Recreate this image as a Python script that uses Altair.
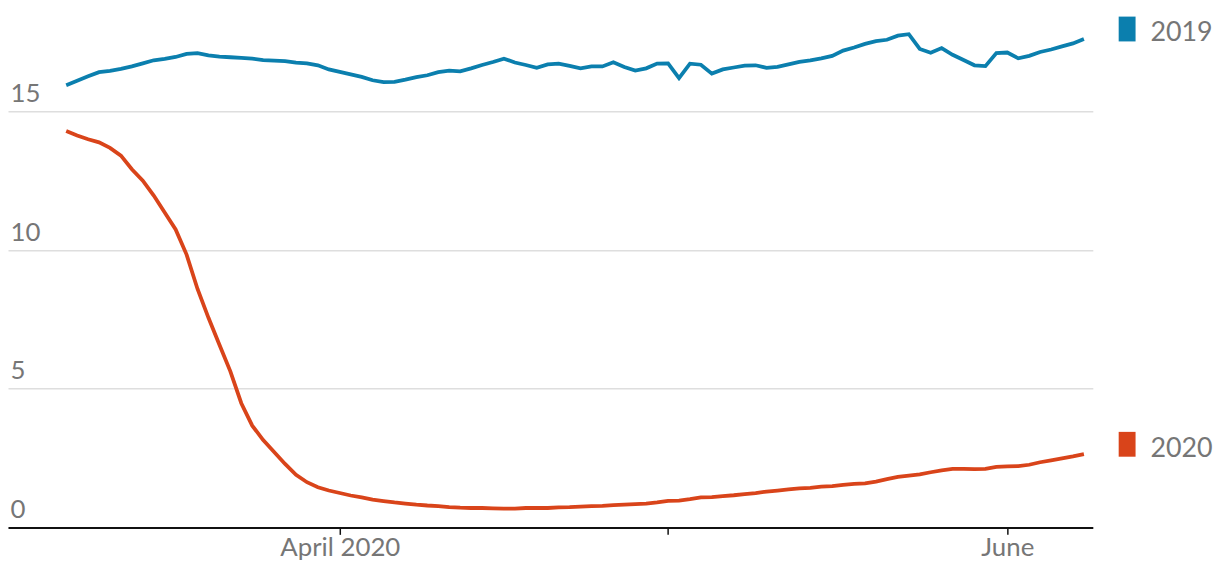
import altair as alt
import pandas as pd

# Daily dates, 7 March 2020 to 8 June 2020
dates = pd.date_range("2020-03-07", "2020-06-08", freq="D").strftime("%Y-%m-%d").tolist()

values_2019 = [
    15.95, 16.11, 16.27, 16.42, 16.47, 16.54, 16.63, 16.74, 16.85, 16.90,
    16.97, 17.08, 17.11, 17.03, 16.98, 16.96, 16.94, 16.91, 16.86, 16.84,
    16.82, 16.77, 16.74, 16.67, 16.52, 16.43, 16.34, 16.25, 16.13, 16.06,
    16.07, 16.15, 16.24, 16.31, 16.42, 16.48, 16.45, 16.56, 16.68, 16.79,
    16.91, 16.77, 16.68, 16.58, 16.70, 16.73, 16.65, 16.56, 16.63, 16.63,
    16.78, 16.61, 16.48, 16.56, 16.73, 16.74, 16.21, 16.73, 16.69, 16.37,
    16.52, 16.59, 16.66, 16.67, 16.58, 16.61, 16.70, 16.79, 16.85, 16.92,
    17.01, 17.20, 17.31, 17.44, 17.54, 17.59, 17.74, 17.79, 17.26, 17.12,
    17.29, 17.05, 16.86, 16.67, 16.64, 17.11, 17.13, 16.92, 17.01, 17.15,
    17.24, 17.35, 17.46, 17.62,
]

values_2020 = [
    14.30, 14.14, 14.00, 13.89, 13.69, 13.41, 12.92, 12.51, 11.97, 11.36,
    10.75, 9.84, 8.60, 7.56, 6.59, 5.63, 4.48, 3.67, 3.15, 2.72,
    2.29, 1.90, 1.63, 1.45, 1.33, 1.24, 1.15, 1.08, 1.00, 0.95,
    0.90, 0.86, 0.82, 0.79, 0.77, 0.73, 0.71, 0.70, 0.70, 0.69,
    0.68, 0.68, 0.70, 0.70, 0.70, 0.72, 0.73, 0.75, 0.77, 0.78,
    0.80, 0.82, 0.84, 0.86, 0.90, 0.96, 0.97, 1.02, 1.08, 1.09,
    1.13, 1.16, 1.20, 1.24, 1.29, 1.33, 1.37, 1.41, 1.43, 1.47,
    1.49, 1.53, 1.57, 1.59, 1.65, 1.74, 1.82, 1.87, 1.91, 1.99,
    2.06, 2.11, 2.11, 2.10, 2.11, 2.18, 2.20, 2.21, 2.26, 2.35,
    2.42, 2.49, 2.56, 2.64,
]

series_names = ["2019", "2020"]
series_colors = ["#0b7fae", "#d9441a"]
y_ticks = [0, 5, 10, 15]
x_tick_dates = ["2020-04-01", "2020-05-01", "2020-06-01"]

df = pd.DataFrame({
    "date": dates * 2,
    "value": values_2019 + values_2020,
    "year": ["2019"] * len(dates) + ["2020"] * len(dates),
})
last = df[df["date"] == dates[-1]]

FONT = "Lato"
GRAY = "#767676"

x_enc = alt.X(
    "date:T",
    scale=alt.Scale(
        type="utc",
        domain=[
            alt.DateTime(year=2020, month=3, date=1, hours=16, minutes=20, utc=True),
            alt.DateTime(year=2020, month=6, date=8, hours=19, minutes=30, utc=True),
        ],
    ),
    axis=alt.Axis(
        title=None,
        values=[alt.DateTime(year=2020, month=int(d[5:7]), date=1, utc=True) for d in x_tick_dates],
        labelExpr="utcFormat(datum.value, '%m') == '04' ? 'April 2020' : (utcFormat(datum.value, '%m') == '06' ? 'June' : '')",
        grid=False,
        domainColor="#111111",
        domainWidth=2,
        tickColor="#111111",
        tickWidth=1.5,
        tickSize=7,
        labelFontSize=26,
        labelFont=FONT,
        labelColor=GRAY,
        labelBaseline="alphabetic",
        labelPadding=21,
        labelFlush=False,
    ),
)

y_enc = alt.Y(
    "value:Q",
    scale=alt.Scale(domain=[0, 18.67], nice=False, zero=True),
    axis=alt.Axis(
        title=None,
        values=y_ticks,
        domain=False,
        ticks=False,
        tickSize=0,
        labelAlign="left",
        labelBaseline="alphabetic",
        labelPadding=-2,
        labelOffset=-10,
        labelFontSize=26,
        labelFont=FONT,
        labelColor=GRAY,
        labelFlush=False,
        gridColor="#dedede",
        gridWidth=1.5,
    ),
)

color_enc = alt.Color(
    "year:N",
    scale=alt.Scale(domain=series_names, range=series_colors),
    legend=None,
)

lines = alt.Chart(df).mark_line(strokeWidth=3.8).encode(
    x=x_enc, y=y_enc, color=color_enc, detail="year:N"
)

squares = alt.Chart(last).mark_point(
    shape="M-0.68,-1H0.68V1H-0.68Z",
    size=625,
    filled=True,
    opacity=1,
    strokeWidth=0,
    xOffset=43.5,
    yOffset=-10,
).encode(x="date:T", y="value:Q", color=color_enc)

labels = alt.Chart(last).mark_text(
    align="left",
    baseline="alphabetic",
    dx=67,
    dy=2.5,
    fontSize=27,
    font=FONT,
    color=GRAY,
).encode(x="date:T", y="value:Q", text="year:N")

chart = (
    alt.layer(lines, squares, labels)
    .properties(
        width=1092,
        height=521,
        padding={"left": 0, "top": 0, "right": 121, "bottom": 37},
        autosize=alt.AutoSizeParams(type="none"),
    )
    .configure_view(stroke=None)
)

chart.save("out.html", embed_options={"renderer": "svg", "actions": False})
